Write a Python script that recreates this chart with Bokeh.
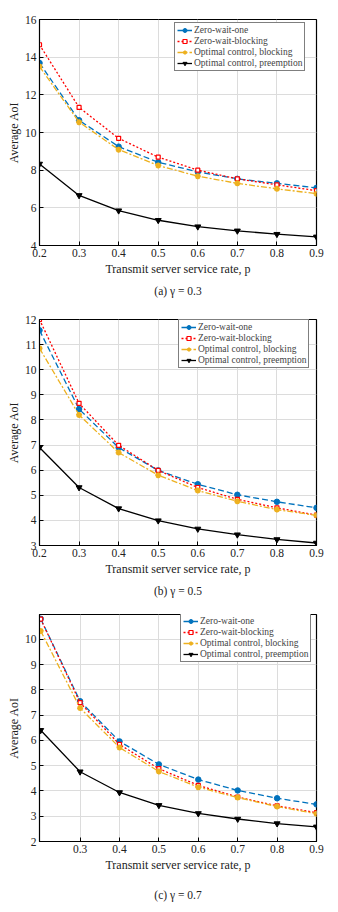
from bokeh.plotting import figure
from bokeh.layouts import column
from bokeh.models import Range1d, FixedTicker, Title, Legend, LegendItem
from bokeh.embed import file_html
from bokeh.resources import INLINE

p_rate = [0.2, 0.3, 0.4, 0.5, 0.6, 0.7, 0.8, 0.9]

labels = ["Zero-wait-one", "Zero-wait-blocking",
          "Optimal control, blocking", "Optimal control, preemption"]

# gamma = 0.3
a_zw_one = [13.69, 10.65, 9.25, 8.42, 7.91, 7.54, 7.30, 7.06]
a_zw_block = [14.66, 11.33, 9.69, 8.69, 8.00, 7.54, 7.22, 6.91]
a_opt_block = [13.50, 10.55, 9.09, 8.25, 7.68, 7.30, 7.01, 6.75]
a_opt_pre = [8.33, 6.66, 5.85, 5.34, 5.00, 4.78, 4.60, 4.46]

# gamma = 0.5
b_zw_one = [11.57, 8.43, 6.90, 5.99, 5.44, 5.02, 4.74, 4.50]
b_zw_block = [12.00, 8.66, 6.99, 5.99, 5.31, 4.84, 4.50, 4.21]
b_opt_block = [10.85, 8.20, 6.70, 5.80, 5.19, 4.76, 4.43, 4.20]
b_opt_pre = [6.90, 5.31, 4.47, 3.99, 3.66, 3.43, 3.24, 3.10]

# gamma = 0.7
c_zw_one = [10.81, 7.55, 5.96, 5.05, 4.45, 4.02, 3.71, 3.47]
c_zw_block = [10.80, 7.49, 5.84, 4.88, 4.22, 3.76, 3.41, 3.14]
c_opt_block = [10.33, 7.28, 5.72, 4.77, 4.15, 3.74, 3.38, 3.10]
c_opt_pre = [6.40, 4.76, 3.94, 3.43, 3.11, 2.89, 2.71, 2.58]

captions = ["(a) \u03b3 = 0.3", "(b) \u03b3 = 0.5", "(c) \u03b3 = 0.7"]

FONT = "Liberation Serif"
BLUE = "#0072BD"
RED = "#FF0000"
ORANGE = "#EDB120"


def panel(series, caption, height, top, frame_h, yr, yticks, xr, xticks,
          leg_margin_x, leg_margin_y, cap_standoff):
    p = figure(width=338, height=height, output_backend="svg",
               toolbar_location=None,
               x_range=Range1d(*xr), y_range=Range1d(*yr),
               min_border_left=39, min_border_right=22,
               min_border_top=top, min_border_bottom=height - top - frame_h)
    p.background_fill_color = "white"
    p.border_fill_color = "white"
    p.outline_line_color = "black"
    p.outline_line_width = 1.2

    r1 = p.line(p_rate, series[0], color=BLUE, line_width=1.3, line_dash="6 3")
    m1 = p.scatter(p_rate, series[0], marker="circle", size=5.5,
                   fill_color=BLUE, line_color=BLUE)
    r2 = p.line(p_rate, series[1], color=RED, line_width=1.3, line_dash="2 2")
    m2 = p.scatter(p_rate, series[1], marker="square", size=4,
                   fill_color="white", line_color=RED, line_width=1.2)
    r3 = p.line(p_rate, series[2], color=ORANGE, line_width=1.3,
                line_dash="6 2 2 2")
    m3 = p.scatter(p_rate, series[2], marker="asterisk", size=6,
                   line_color=ORANGE, line_width=1.8)
    r4 = p.line(p_rate, series[3], color="black", line_width=1.3)
    m4 = p.scatter(p_rate, series[3], marker="inverted_triangle", size=6,
                   fill_color="black", line_color="black")

    legend = Legend(items=[LegendItem(label=labels[0], renderers=[r1, m1]),
                           LegendItem(label=labels[1], renderers=[r2, m2]),
                           LegendItem(label=labels[2], renderers=[r3, m3]),
                           LegendItem(label=labels[3], renderers=[r4, m4])],
                    location="top_right")
    legend.margin = 0
    legend.location = (277 - 134 - leg_margin_x, frame_h - 45 - leg_margin_y)
    legend.label_text_font = FONT
    legend.label_text_font_size = "9.5px"
    legend.label_height = 10
    legend.glyph_height = 10
    legend.glyph_width = 15
    legend.label_standoff = 2
    legend.spacing = 1
    legend.padding = 2
    legend.border_line_color = "black"
    legend.border_line_width = 1
    legend.background_fill_alpha = 1
    p.add_layout(legend, "center")

    p.xaxis.ticker = FixedTicker(ticks=xticks)
    p.yaxis.ticker = FixedTicker(ticks=yticks)
    for ax in (p.xaxis, p.yaxis):
        ax.major_tick_in = 4
        ax.major_tick_out = 0
        ax.minor_tick_line_color = None
        ax.axis_line_color = "black"
        ax.major_tick_line_color = "black"
        ax.major_label_text_font = FONT
        ax.major_label_text_font_size = "11.5px"
        ax.major_label_text_color = "#222222"
        ax.axis_label_text_font = FONT
        ax.axis_label_text_font_size = "12px"
        ax.axis_label_text_font_style = "normal"
        ax.axis_label_text_color = "#222222"
    p.xaxis.major_label_standoff = 3
    p.yaxis.major_label_standoff = 3
    p.xaxis.axis_label = "Transmit server service rate, p"
    p.yaxis.axis_label = "Average AoI"
    p.xaxis.axis_label_standoff = 2
    p.yaxis.axis_label_standoff = 1

    p.xgrid.ticker = FixedTicker(ticks=xticks)
    p.ygrid.ticker = FixedTicker(ticks=yticks)
    p.grid.grid_line_color = "#dcdcdc"
    p.grid.grid_line_width = 1

    t = Title(text=caption, align="center", text_font=FONT,
              text_font_size="11.5px", text_font_style="normal",
              text_color="#222222", standoff=cap_standoff)
    p.add_layout(t, "below")
    return p


pa = panel([a_zw_one, a_zw_block, a_opt_block, a_opt_pre], captions[0],
           300, 19, 227, (4, 16), [4, 6, 8, 10, 12, 14, 16],
           (0.2, 0.9), [0.2, 0.3, 0.4, 0.5, 0.6, 0.7, 0.8, 0.9], 8, 8, 8)
pb = panel([b_zw_one, b_zw_block, b_opt_block, b_opt_pre], captions[1],
           300, 19, 227, (3, 12), [3, 4, 5, 6, 7, 8, 9, 10, 11, 12],
           (0.2, 0.9), [0.2, 0.3, 0.4, 0.5, 0.6, 0.7, 0.8, 0.9], 4, 5, 8)
pc = panel([c_zw_one, c_zw_block, c_opt_block, c_opt_pre], captions[2],
           312, 14, 230, (2, 10.98), [2, 3, 4, 5, 6, 7, 8, 9, 10],
           (0.197, 0.9), [0.3, 0.4, 0.5, 0.6, 0.7, 0.8, 0.9], 2, 6, 24)

layout = column(pa, pb, pc, spacing=0)
open("out.html", "w").write(file_html(layout, INLINE))
